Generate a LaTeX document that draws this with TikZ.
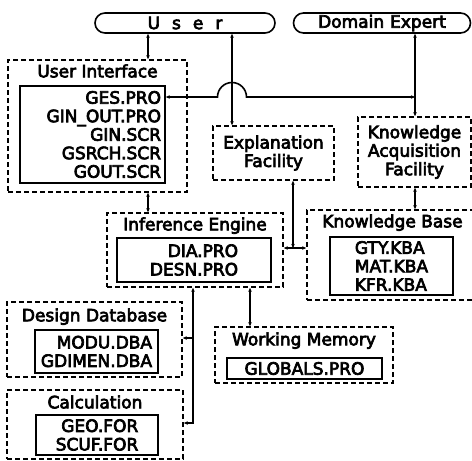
\documentclass[tikz,border=0pt]{standalone}
\usepackage{fontspec}
\setmainfont{DejaVu Sans}[FakeBold=4]
\usetikzlibrary{arrows.meta, positioning}

\begin{document}
\begin{tikzpicture}[x=1pt, y=-1pt,
  every node/.style={font=\fontsize{17}{18.5}\selectfont, inner sep=0pt},
  outer/.style={draw, dash pattern=on 5pt off 3pt, line width=1.6pt, align=center},
  inner/.style={draw, line width=1.6pt, align=right},
  pill/.style={draw, line width=1.6pt, rounded corners=10pt, minimum height=20pt},
  conn/.style={line width=1.6pt, {Stealth[length=4pt,width=3.5pt]}-{Stealth[length=4pt,width=3.5pt]}},
  connend/.style={line width=1.6pt, -{Stealth[length=4pt,width=3.5pt]}}
]
  \useasboundingbox (0,0) rectangle (472,461);

  % people
  \node[pill, minimum width=180pt] (user) at (185,23) {U\hspace{12pt}s\hspace{12pt}e\hspace{12pt}r};
  \node[pill, minimum width=177pt] (expert) at (382,23) {Domain\hspace{6pt}Expert};

  % user interface
  \node[outer, minimum width=179pt, minimum height=132pt] (ui) at (97.5,126) {};
  \node[below=5pt of ui.north] (uititle) {User Interface};
  \node[inner, text width=137pt, minimum width=145pt, minimum height=97pt] (uifiles) at (92.5,134.5)
    {GES.PRO\\GIN\_OUT.PRO\\GIN.SCR\\GSRCH.SCR\\GOUT.SCR};

  % explanation and acquisition
  \node[outer, minimum width=121pt, minimum height=54pt] (expl) at (273.5,153) {Explanation\\Facility};
  \node[outer, minimum width=113pt, minimum height=70pt] (acq) at (414.5,152) {Knowledge\\Acquisition\\Facility};

  % knowledge base
  \node[outer, minimum width=171pt, minimum height=90pt] (kb) at (392.5,255) {};
  \node[below=5pt of kb.north] (kbtitle) {Knowledge Base};
  \node[inner, align=left, minimum width=123pt, minimum height=58pt] (kbfiles) at (391.5,266)
    {GTY.KBA\\MAT.KBA\\KFR.KBA};

  % inference engine
  \node[outer, minimum width=176pt, minimum height=74pt] (ie) at (195,250) {};
  \node[below=5pt of ie.north] (ietitle) {Inference Engine};
  \node[inner, minimum width=154pt, minimum height=44pt] (iefiles) at (194,260) {DIA.PRO\\DESN.PRO};

  % design database
  \node[outer, minimum width=175pt, minimum height=75pt] (ddb) at (94.5,339.5) {};
  \node[below=7pt of ddb.north] (ddbtitle) {Design Database};
  \node[inner, minimum width=123pt, minimum height=43pt] (ddbfiles) at (96.5,351.5) {MODU.DBA\\GDIMEN.DBA};

  % calculation
  \node[outer, minimum width=176pt, minimum height=69pt] (calc) at (95,424.5) {};
  \node[below=6pt of calc.north] (calctitle) {Calculation};
  \node[inner, minimum width=122pt, minimum height=40pt] (calcfiles) at (97,435) {GEO.FOR\\SCUF.FOR};

  % working memory
  \node[outer, minimum width=178pt, minimum height=56pt] (wm) at (304,355) {};
  \node[below=6pt of wm.north] (wmtitle) {Working Memory};
  \node[inner, minimum width=155pt, minimum height=21pt] (wmfiles) at (304.5,368.5) {GLOBALS.PRO};

  % connectors
  \coordinate (uix) at (148,0);
  \coordinate (hop) at (232,97);
  \coordinate (acqx) at (415,0);
  \coordinate (kbj) at (293,248);
  \coordinate (wmx) at (250,0);
  \coordinate (ddj) at (193,338);
  \coordinate (calcj) at (193,423);

  \draw[conn] (user.south -| uix) -- (ui.north -| uix);
  \draw[conn] (ui.south -| uix) -- (ie.north -| uix);
  \draw[conn] (user.south -| hop) -- (expl.north -| hop);
  \draw[conn] (expert.south -| acqx) -- (acq.north -| acqx);
  \draw[conn] (acq.south -| acqx) -- (kb.north -| acqx);
  \draw[conn] (uifiles.east |- hop) -- ([xshift=-14.5pt]hop)
    arc[start angle=180, end angle=0, radius=14.5pt] -- (acqx |- hop);
  \draw[conn] (expl.south -| kbj) -- (kbj);
  \draw[conn] (ie.east |- kbj) -- (kb.west |- kbj);
  \draw[conn] (ie.south -| wmx) -- (wm.north -| wmx);
  \draw[conn] (ie.south -| ddj) -- (calcj) -- (calc.east |- calcj);
  \draw[connend] (ddj) -- (ddb.east |- ddj);
\end{tikzpicture}
\end{document}
